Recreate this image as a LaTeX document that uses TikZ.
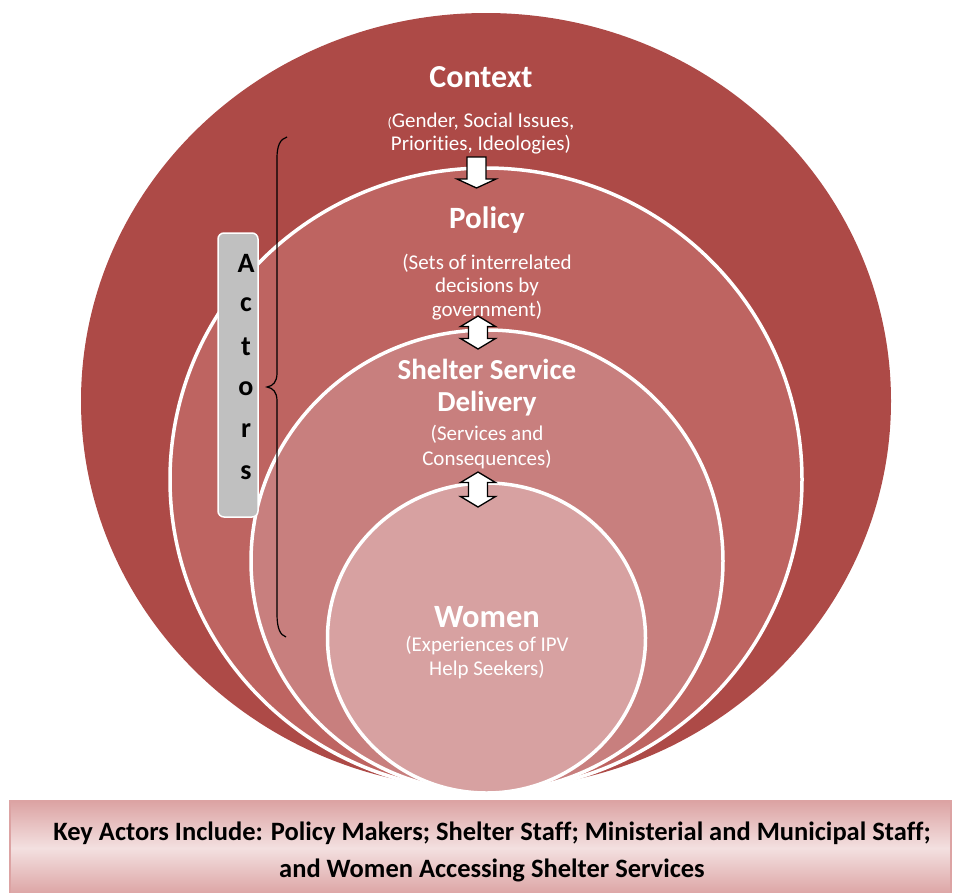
\documentclass[tikz,border=0pt]{standalone}
\usepackage{fontspec}
\setmainfont{Carlito}[Ligatures=NoCommon]
\usetikzlibrary{positioning}
\definecolor{contextred}{HTML}{AD4A47}
\definecolor{policyred}{HTML}{BE6461}
\definecolor{shelterred}{HTML}{C87F7E}
\definecolor{womenpink}{HTML}{D7A1A1}
\definecolor{actorsgray}{HTML}{C0C0C0}
\definecolor{keyedge}{HTML}{DCA3A3}
\definecolor{keylight}{HTML}{F3E0E0}
\tikzset{
  ring/.style={draw=white, line width=3.5pt},
  title/.style={text=white, font=\bfseries\fontsize{#1}{32}\selectfont, align=center},
  note/.style={text=white, font=\fontsize{21}{23.5}\selectfont, align=center},
  blockarrow/.style={draw=black, fill=white, line width=1.3pt, line join=miter},
  actorsbox/.style={draw=white, fill=actorsgray, line width=1.5pt, rounded corners=6pt,
    minimum width=40pt, minimum height=284pt, inner sep=0pt},
  actorletter/.style={font=\bfseries\fontsize{28}{28}\selectfont, inner sep=0pt},
  bracket/.style={draw=black, line width=1.2pt},
  keybox/.style={draw=keyedge, line width=2pt, top color=keyedge, bottom color=keyedge,
    middle color=keylight, minimum width=941pt, minimum height=94pt, inner sep=0pt},
}
\begin{document}
\begin{tikzpicture}[x=1pt, y=-1pt]
  \useasboundingbox (0,0) rectangle (961,892);
  % nested circles, all resting on the same bottom point
  \fill[contextred] (486,401) ellipse [x radius=405, y radius=388];
  \filldraw[ring, fill=policyred] (486,479.5) ellipse [x radius=316, y radius=311.5];
  \filldraw[ring, fill=shelterred] (487,561) ellipse [x radius=236, y radius=231];
  \filldraw[ring, fill=womenpink] (486.5,638) ellipse [x radius=159, y radius=155];

  % titles and notes
  \node[title=32] (context) at (481,77) {Context};
  \node[note] (contextnote) at (481,133.5)
    {{\fontsize{14}{14}\selectfont(}Gender, Social Issues,\\Priorities, Ideologies)};
  \node[title=31] (policy) at (487,220) {Policy};
  \node[note] (policynote) at (487,287)
    {(Sets of interrelated\\decisions by\\government)};
  \node[title=29] (shelter) at (487,388) {Shelter Service\\Delivery};
  \node[note, font=\fontsize{21}{25}\selectfont] (shelternote) at (487,447.5)
    {(Services and\\Consequences)};
  \node[title=32.5] (women) at (487,617) {Women};
  \node[note] (womennote) at (487,657.5) {(Experiences of IPV\\Help Seekers)};

  % block arrows between the rings
  \draw[blockarrow, shift={(476.5,157)}]
    (-9.5,0) -- (9.5,0) -- (9.5,22) -- (19.5,22) -- (0,31) -- (-19.5,22) -- (-9.5,22) -- cycle;
  \foreach \ytop/\len in {316/33, 472/35} {
    \draw[blockarrow, shift={(478,\ytop)}]
      (0,0) -- (17.5,10.5) -- (9.5,10.5) -- (9.5,\len-10.5) -- (17.5,\len-10.5) -- (0,\len)
      -- (-17.5,\len-10.5) -- (-9.5,\len-10.5) -- (-9.5,10.5) -- (-17.5,10.5) -- cycle;
  }

  % actors
  \node[actorsbox] (actors) at (238,375) {};
  \foreach \l [count=\i from 0] in {A,c,t,o,r,s}
    \node[actorletter] (actor\i) at (246,{263+42*\i}) {\l};
  \draw[bracket] (287,137) .. controls (280,139) and (277,146) .. (277,158)
    -- (277,373) .. controls (277,382) and (273,386) .. (267,387)
    .. controls (273,388) and (277,392) .. (277,401)
    -- (277,614) .. controls (277,628) and (280,635) .. (286,637);

  % key actors box
  \node[keybox] (keyactors) at (480.5,848) {};
  \node[font=\bfseries\fontsize{26.5}{37}\selectfont, align=center] (keytext) at (492,852)
    {Key Actors Include: Policy Makers; Shelter Staff; Ministerial and Municipal Staff;\\
     and Women Accessing Shelter Services};
\end{tikzpicture}
\end{document}
